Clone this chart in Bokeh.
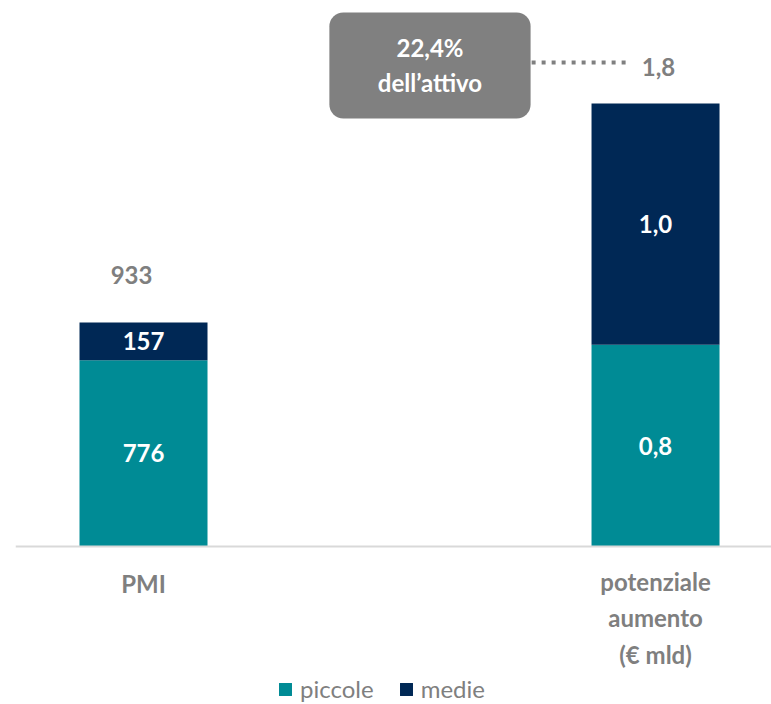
from bokeh.plotting import figure
from bokeh.models import (ColumnDataSource, Range1d, Span,
                          Legend, LegendItem)
from bokeh.core.properties import value
from bokeh.embed import file_html
from bokeh.resources import INLINE

# ---------------- data ----------------
categories = ["PMI", "potenziale\naumento\n(€ mld)"]
series = ["piccole", "medie"]
pmi_values = [776, 157]          # PMI
pot_values = [0.82, 0.98]        # potenziale aumento, € mld
callout_text = "22,4%\ndell\u2019attivo"

TEAL = "#008B95"
NAVY = "#002855"
GRAY = "#7F7F7F"
FONT = "Lato"

# ---------------- figure ----------------
p = figure(frame_width=756, frame_height=695, output_backend="svg", toolbar_location=None,
           x_range=Range1d(-0.25, 1.2265), y_range=Range1d(-653.9, 2240.8),
           min_border=0, min_border_left=15, min_border_right=0, min_border_top=8)
p.extra_y_ranges = {"pot": Range1d(-0.638, 2.186)}
p.outline_line_color = None
p.grid.visible = False
p.xaxis.visible = False
p.yaxis.visible = False
p.background_fill_color = "white"

W = 0.25
src_pmi = ColumnDataSource(dict(x=[0], piccole=[pmi_values[0]], medie=[pmi_values[1]]))
src_pot = ColumnDataSource(dict(x=[1], piccole=[pot_values[0]], medie=[pot_values[1]]))

r_pmi = p.vbar_stack(series, x="x", width=W, source=src_pmi,
                     color=[TEAL, NAVY], line_color=None)
r_pot = p.vbar_stack(series, x="x", width=W, source=src_pot, y_range_name="pot",
                     color=[TEAL, NAVY], line_color=None)

# baseline (category axis line)
p.add_layout(Span(location=0, dimension="width", line_color="#D9D9D9", line_width=2))

# inner labels
def fmt_pot(v):
    return ("%.1f" % v).replace(".", ",")

pmi_mid = [pmi_values[0] / 2, pmi_values[0] + pmi_values[1] / 2]
pot_mid = [pot_values[0] / 2, pot_values[0] + pot_values[1] / 2]
lab_pmi = ColumnDataSource(dict(x=[0, 0], y=pmi_mid, t=[str(v) for v in pmi_values]))
lab_pot = ColumnDataSource(dict(x=[1, 1], y=pot_mid, t=[fmt_pot(v) for v in pot_values]))
for s, yr in ((lab_pmi, "default"), (lab_pot, "pot")):
    p.text(x="x", y="y", text="t", source=s, y_range_name=yr,
           text_color="white", text_font=value(FONT), text_font_style="bold",
           text_font_size="24px", text_align="center", text_baseline="middle")

# totals
p.text(x=[0], y=[sum(pmi_values)], text=[str(sum(pmi_values))],
       x_offset=-12, y_offset=-47,
       text_color=GRAY, text_font=value(FONT), text_font_style="bold",
       text_font_size="24px", text_align="center", text_baseline="middle")
p.text(x=[1], y=[sum(pot_values)], text=[fmt_pot(sum(pot_values))],
       x_offset=3, y_offset=-36, y_range_name="pot",
       text_color=GRAY, text_font=value(FONT), text_font_style="bold",
       text_font_size="24px", text_align="center", text_baseline="middle")

# callout box + dotted leader
p.quad(left=[0.363], right=[0.756], bottom=[1.739], top=[2.170], y_range_name="pot",
       fill_color="#808080", line_color=None, border_radius=14)
p.text(x=[0.5595], y=[1.955], text=[callout_text], y_range_name="pot",
       text_color="white", text_font=value(FONT), text_font_style="bold",
       text_font_size="24px", text_align="center", text_baseline="middle",
       text_line_height=1.2)
p.segment(x0=[0.758], x1=[0.945], y0=[1.967], y1=[1.967], y_range_name="pot",
          line_color="#808080", line_width=4, line_dash="4 6")

# category labels under the baseline
n_lines = [c.count("\n") + 1 for c in categories]
offsets = [37 + (n - 1) * 34.5 / 2 for n in n_lines]
cat_src = ColumnDataSource(dict(x=[0, 1], y=[0, 0], t=categories, off=offsets))
p.text(x="x", y="y", text="t", y_offset="off", source=cat_src,
       text_color=GRAY, text_font=value(FONT), text_font_style="bold",
       text_font_size="24px", text_align="center", text_baseline="middle",
       text_line_height=1.26)

# legend
legend = Legend(items=[LegendItem(label=series[0], renderers=[r_pmi[0], r_pot[0]]),
                       LegendItem(label=series[1], renderers=[r_pmi[1], r_pot[1]])],
                orientation="horizontal", location=(262, 0),
                label_text_font=FONT, label_text_font_size="24px",
                label_text_color=GRAY, glyph_width=16, glyph_height=16,
                label_standoff=7, spacing=24, padding=0, margin=0,
                label_height=28,
                border_line_color=None, background_fill_alpha=0)
p.add_layout(legend)

open("out.html", "w").write(file_html(p, INLINE))
